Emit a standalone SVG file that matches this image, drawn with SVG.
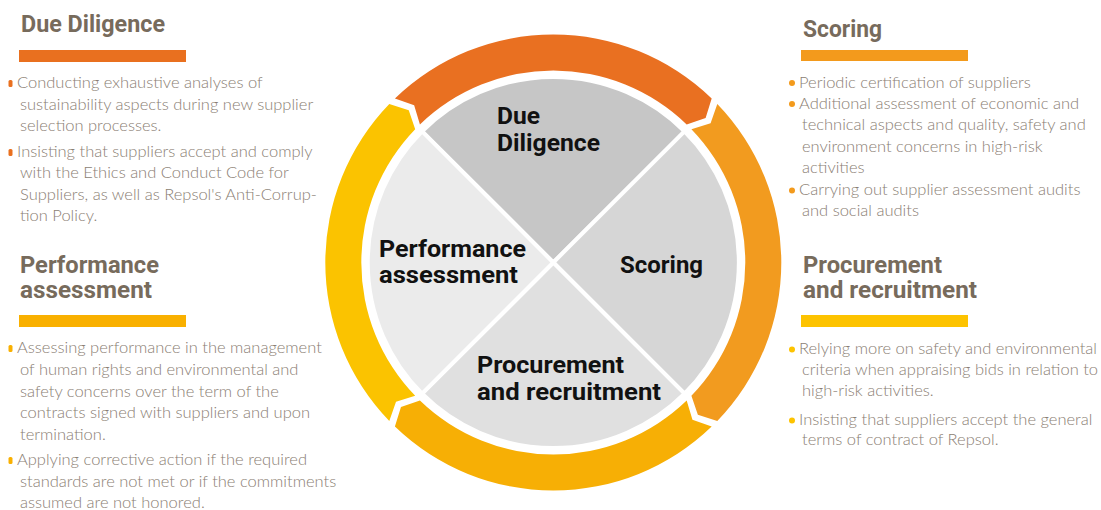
<svg xmlns="http://www.w3.org/2000/svg" width="1101" height="510" viewBox="0 0 1101 510">
<style>
.hd{font-family:Roboto,"Liberation Sans",sans-serif;font-weight:700;font-size:23px;fill:#776B5C}
.ql{font-family:Roboto,"Liberation Sans",sans-serif;font-weight:700;font-size:23px;fill:#111}
.bd{font-family:Lato,"Liberation Sans",sans-serif;font-weight:300;font-size:16.5px;fill:#8A7E73}
.wedge{stroke:#fff;stroke-width:4;stroke-linejoin:round}
</style>
<defs>
<path id="arc" d="M-158.38,-164.01 A228,228 0 0 1 158.38,-164.01 L152.33,-144.55 L133.37,-138.11 A192,192 0 0 0 -133.37,-138.11 L-139.15,-157.28 Z"/>
<path id="wedge" d="M0,0 L-131.2,-131.2 A185.5,185.5 0 0 1 131.2,-131.2 Z"/>
</defs>
<rect width="1101" height="510" fill="#fff"/>

<g id="connectors" transform="translate(553.3,262.5)">
<use href="#arc" fill="#E97021"/>
<use href="#arc" fill="#F29B1F" transform="rotate(90)"/>
<use href="#arc" fill="#F7AF05" transform="rotate(180)"/>
<use href="#arc" fill="#FBC300" transform="rotate(270)"/>
</g>

<g id="node-due-diligence">
<use href="#wedge" class="wedge" fill="#C6C6C6" transform="translate(553.3,262.5)"/>
<text class="ql" x="497" y="124" textLength="43" lengthAdjust="spacingAndGlyphs">Due</text>
<text class="ql" x="497" y="151" textLength="103" lengthAdjust="spacingAndGlyphs">Diligence</text>
</g>
<g id="node-scoring">
<use href="#wedge" class="wedge" fill="#D6D6D6" transform="translate(553.3,262.5) rotate(90)"/>
<text class="ql" x="620" y="273" textLength="83" lengthAdjust="spacingAndGlyphs">Scoring</text>
</g>
<g id="node-procurement">
<use href="#wedge" class="wedge" fill="#E0E0E0" transform="translate(553.3,262.5) rotate(180)"/>
<text class="ql" x="477" y="373" textLength="147" lengthAdjust="spacingAndGlyphs">Procurement</text>
<text class="ql" x="477" y="400" textLength="184" lengthAdjust="spacingAndGlyphs">and recruitment</text>
</g>
<g id="node-performance">
<use href="#wedge" class="wedge" fill="#EBEBEB" transform="translate(553.3,262.5) rotate(270)"/>
<text class="ql" x="379" y="257" textLength="147" lengthAdjust="spacingAndGlyphs">Performance</text>
<text class="ql" x="379" y="283" textLength="139" lengthAdjust="spacingAndGlyphs">assessment</text>
</g>

<g id="panel-due-diligence">
<text class="hd" x="21" y="32" textLength="144" lengthAdjust="spacingAndGlyphs">Due Diligence</text>
<rect x="19" y="50" width="167" height="12" fill="#E9701F"/>
<rect x="8.5" y="80" width="4" height="7" rx="1.5" fill="#E9701F"/>
<text class="bd" x="17" y="88">Conducting exhaustive analyses of</text>
<text class="bd" x="20" y="109.5">sustainability aspects during new supplier</text>
<text class="bd" x="20" y="131">selection processes.</text>
<rect x="8.5" y="149" width="4" height="7" rx="1.5" fill="#E9701F"/>
<text class="bd" x="17" y="156.5">Insisting that suppliers accept and comply</text>
<text class="bd" x="20" y="178">with the Ethics and Conduct Code for</text>
<text class="bd" x="20" y="199.5">Suppliers, as well as Repsol's Anti-Corrup-</text>
<text class="bd" x="20" y="221">tion Policy.</text>
</g>

<g id="panel-performance">
<text class="hd" x="20" y="273" textLength="139" lengthAdjust="spacingAndGlyphs">Performance</text>
<text class="hd" x="20" y="298" textLength="132" lengthAdjust="spacingAndGlyphs">assessment</text>
<rect x="19" y="315" width="167" height="12" fill="#F9B000"/>
<rect x="8.5" y="345" width="4" height="7" rx="1.5" fill="#F9B000"/>
<text class="bd" x="17" y="353">Assessing performance in the management</text>
<text class="bd" x="20" y="375">of human rights and environmental and</text>
<text class="bd" x="20" y="396.5">safety concerns over the term of the</text>
<text class="bd" x="20" y="418">contracts signed with suppliers and upon</text>
<text class="bd" x="20" y="439.5">termination.</text>
<rect x="8.5" y="457" width="4" height="7" rx="1.5" fill="#F9B000"/>
<text class="bd" x="17" y="465">Applying corrective action if the required</text>
<text class="bd" x="20" y="486.5">standards are not met or if the commitments</text>
<text class="bd" x="20" y="508">assumed are not honored.</text>
</g>

<g id="panel-scoring">
<text class="hd" x="803" y="37" textLength="79" lengthAdjust="spacingAndGlyphs">Scoring</text>
<rect x="801" y="50" width="167" height="11" fill="#F39A1C"/>
<circle cx="792" cy="83" r="3" fill="#F39A1C"/>
<text class="bd" x="799" y="87.5">Periodic certification of suppliers</text>
<circle cx="792" cy="104" r="3" fill="#F39A1C"/>
<text class="bd" x="799" y="108.5">Additional assessment of economic and</text>
<text class="bd" x="802" y="130">technical aspects and quality, safety and</text>
<text class="bd" x="802" y="151.5">environment concerns in high-risk</text>
<text class="bd" x="802" y="173">activities</text>
<circle cx="792" cy="190.5" r="3" fill="#F39A1C"/>
<text class="bd" x="799" y="194.5">Carrying out supplier assessment audits</text>
<text class="bd" x="802" y="216">and social audits</text>
</g>

<g id="panel-procurement">
<text class="hd" x="803" y="273" textLength="139" lengthAdjust="spacingAndGlyphs">Procurement</text>
<text class="hd" x="803" y="298" textLength="174" lengthAdjust="spacingAndGlyphs">and recruitment</text>
<rect x="801" y="315" width="167" height="12" fill="#FDC300"/>
<circle cx="792" cy="349.5" r="3" fill="#FDC300"/>
<text class="bd" x="799" y="353.5" textLength="298" lengthAdjust="spacingAndGlyphs">Relying more on safety and environmental</text>
<text class="bd" x="802" y="375" textLength="296" lengthAdjust="spacingAndGlyphs">criteria when appraising bids in relation to</text>
<text class="bd" x="802" y="396">high-risk activities.</text>
<circle cx="792" cy="420.5" r="3" fill="#FDC300"/>
<text class="bd" x="799" y="424.5">Insisting that suppliers accept the general</text>
<text class="bd" x="802" y="444.5">terms of contract of Repsol.</text>
</g>
</svg>
